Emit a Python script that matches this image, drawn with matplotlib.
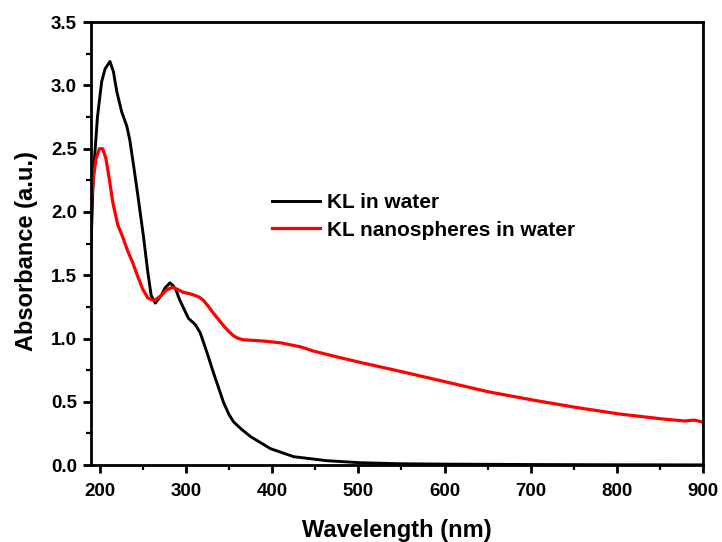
import matplotlib
matplotlib.use('Agg')
import matplotlib.pyplot as plt
from matplotlib.ticker import MultipleLocator, FormatStrFormatter

plt.rcParams['font.family'] = ['Liberation Sans', 'DejaVu Sans']
plt.rcParams['font.weight'] = 'bold'

# KL in water
kl_wl = [190, 192.7, 197.5, 202.4, 206.3, 212, 216, 220, 225.7, 231.5, 235, 240, 245,
         250.8, 256, 259.8, 264.6, 271.4, 276, 281.5, 285, 288.8, 292, 296, 303, 311,
         316.7, 324.5, 332, 338, 344, 350, 355.5, 365, 375, 398, 425, 464, 503,
         550, 600, 700, 800, 900]
kl_abs = [1.72, 2.29, 2.75, 3.03, 3.13, 3.19, 3.11, 2.95, 2.79, 2.68, 2.57, 2.34, 2.10,
          1.81, 1.52, 1.34, 1.28, 1.34, 1.40, 1.44, 1.42, 1.38, 1.32, 1.26, 1.16, 1.11,
          1.045, 0.89, 0.73, 0.61, 0.49, 0.40, 0.34, 0.28, 0.225, 0.13, 0.066, 0.034, 0.018,
          0.010, 0.007, 0.004, 0.002, 0.001]

# KL nanospheres in water
ns_wl = [190, 192.7, 195.8, 199.7, 203.6, 207.4, 211.3, 215.2, 221, 226.9, 232.7, 238.4,
         244.3, 250, 256, 263.6, 271.4, 277, 284, 290, 297, 304, 311, 316, 320.6, 326,
         332, 338, 343.8, 350, 355.5, 361, 367, 390, 410, 433, 448.5, 475, 503, 549,
         599.7, 650, 700.5, 751, 801, 851.6, 878.7, 884, 890, 900]
ns_abs = [2.02, 2.26, 2.42, 2.50, 2.50, 2.42, 2.26, 2.08, 1.90, 1.80, 1.69, 1.60,
          1.49, 1.39, 1.32, 1.30, 1.34, 1.38, 1.405, 1.39, 1.365, 1.355, 1.34, 1.325, 1.30, 1.255,
          1.20, 1.15, 1.10, 1.055, 1.02, 1.00, 0.99, 0.98, 0.966, 0.934, 0.90, 0.855, 0.81, 0.74,
          0.66, 0.58, 0.516, 0.457, 0.405, 0.365, 0.348, 0.352, 0.355, 0.338]

fig = plt.figure(figsize=(7.22, 5.42), dpi=100)
ax = fig.add_axes([0.126, 0.142, 0.848, 0.817])

ax.plot(kl_wl, kl_abs, color='black', lw=2.1, label='KL in water')
ax.plot(ns_wl, ns_abs, color='red', lw=2.3, label='KL nanospheres in water')

ax.set_xlim(190, 900)
ax.set_ylim(0, 3.5)
ax.xaxis.set_major_locator(MultipleLocator(100))
ax.xaxis.set_minor_locator(MultipleLocator(50))
ax.yaxis.set_major_locator(MultipleLocator(0.5))
ax.yaxis.set_minor_locator(MultipleLocator(0.25))
ax.yaxis.set_major_formatter(FormatStrFormatter('%.1f'))

for s in ax.spines.values():
    s.set_linewidth(2.0)
ax.tick_params(which='major', direction='out', length=6, width=2.0, labelsize=13.5)
ax.tick_params(axis='x', which='major', pad=7)
ax.tick_params(axis='y', which='major', pad=4)
ax.tick_params(which='minor', direction='out', length=3.5, width=1.6)
for lab in ax.get_xticklabels() + ax.get_yticklabels():
    lab.set_fontweight('bold')

ax.set_xlabel('Wavelength (nm)', fontsize=17, fontweight='bold', va='baseline')
ax.xaxis.set_label_coords(0.5, -0.1625)
ax.set_ylabel('Absorbance (a.u.)', fontsize=17, fontweight='bold', va='baseline')
ax.yaxis.set_label_coords(-0.095, 0.483)

leg = ax.legend(loc='center left', bbox_to_anchor=(0.296, 0.562), frameon=False,
                fontsize=15, handlelength=2.3, handletextpad=0.35,
                labelspacing=0.42, borderpad=0, borderaxespad=0)
for t in leg.get_texts():
    t.set_fontweight('bold')

fig.savefig('out.png', dpi=100)
